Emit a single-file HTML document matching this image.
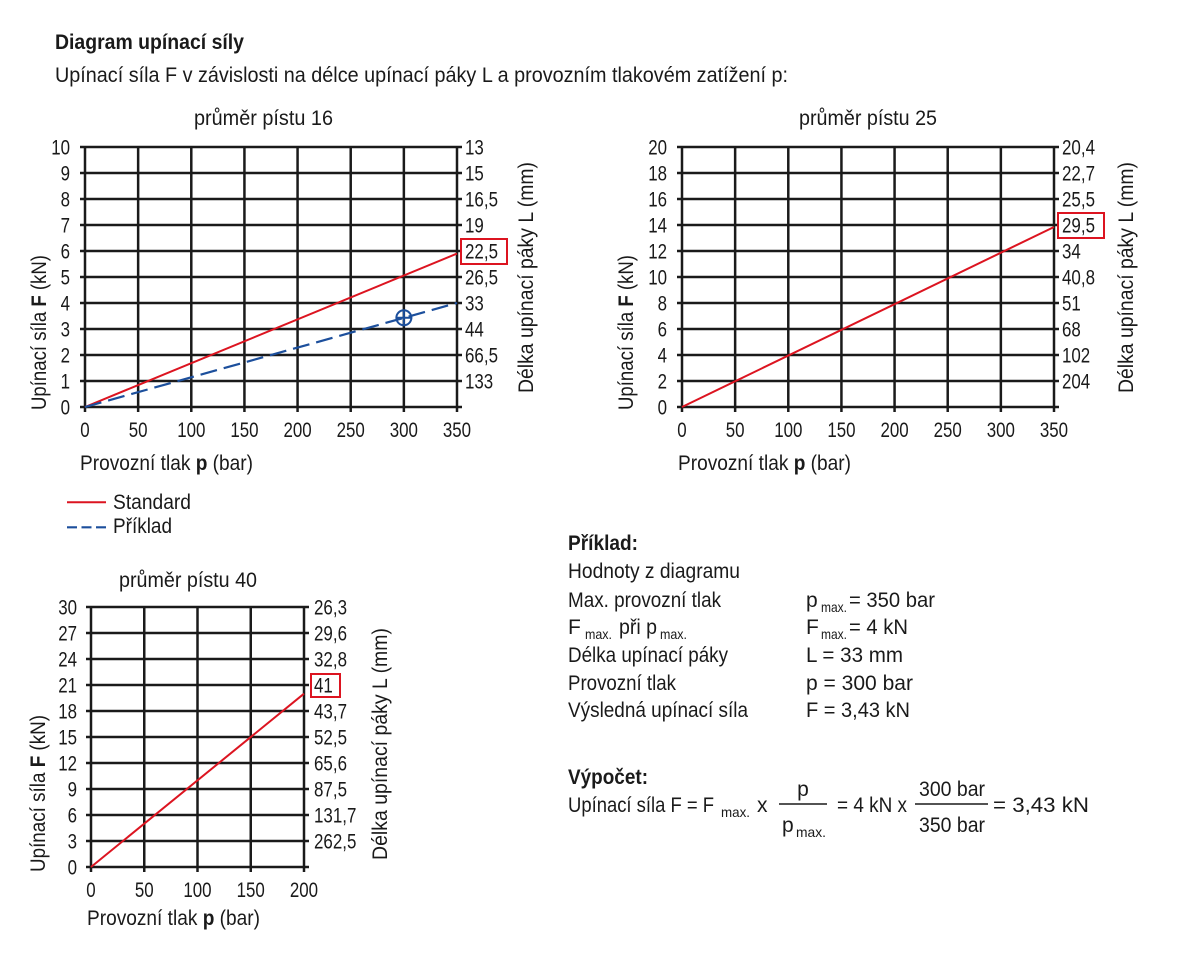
<!DOCTYPE html>
<html>
<head>
<meta charset="utf-8">
<style>
html,body{margin:0;padding:0;background:#fff;}
svg{display:block;}
text{font-family:"Liberation Sans Narrow","Liberation Sans",sans-serif;font-size:21px;fill:#1a1a1a;}
.b{font-weight:bold;}
.s{font-size:14px;}
.g line{stroke:#1a1a1a;stroke-width:2.5;}
</style>
</head>
<body>
<svg width="1200" height="960" viewBox="0 0 1200 960" xmlns="http://www.w3.org/2000/svg">
<rect width="1200" height="960" fill="#fff"/>

<!-- Header -->
<text x="55" y="49" class="b" textLength="189" lengthAdjust="spacingAndGlyphs">Diagram upínací síly</text>
<text x="55" y="82" textLength="733" lengthAdjust="spacingAndGlyphs">Upínací síla F v závislosti na délce upínací páky L a provozním tlakovém zatížení p:</text>

<!-- ================= Chart 1 ================= -->
<text x="194" y="125" textLength="139" lengthAdjust="spacingAndGlyphs">průměr pístu 16</text>
<g class="g">
<line x1="80" y1="147" x2="462" y2="147"/>
<line x1="80" y1="173" x2="462" y2="173"/>
<line x1="80" y1="199" x2="462" y2="199"/>
<line x1="80" y1="225" x2="462" y2="225"/>
<line x1="80" y1="251" x2="462" y2="251"/>
<line x1="80" y1="277" x2="462" y2="277"/>
<line x1="80" y1="303" x2="462" y2="303"/>
<line x1="80" y1="329" x2="462" y2="329"/>
<line x1="80" y1="355" x2="462" y2="355"/>
<line x1="80" y1="381" x2="462" y2="381"/>
<line x1="80" y1="407" x2="462" y2="407"/>
<line x1="85" y1="147" x2="85" y2="412"/>
<line x1="138.14" y1="147" x2="138.14" y2="412"/>
<line x1="191.29" y1="147" x2="191.29" y2="412"/>
<line x1="244.43" y1="147" x2="244.43" y2="412"/>
<line x1="297.57" y1="147" x2="297.57" y2="412"/>
<line x1="350.71" y1="147" x2="350.71" y2="412"/>
<line x1="403.86" y1="147" x2="403.86" y2="412"/>
<line x1="457" y1="147" x2="457" y2="412"/>
</g>
<g text-anchor="end">
<text x="70" y="414.5" textLength="9.4" lengthAdjust="spacingAndGlyphs">0</text>
<text x="70" y="388.5" textLength="9.4" lengthAdjust="spacingAndGlyphs">1</text>
<text x="70" y="362.5" textLength="9.4" lengthAdjust="spacingAndGlyphs">2</text>
<text x="70" y="336.5" textLength="9.4" lengthAdjust="spacingAndGlyphs">3</text>
<text x="70" y="310.5" textLength="9.4" lengthAdjust="spacingAndGlyphs">4</text>
<text x="70" y="284.5" textLength="9.4" lengthAdjust="spacingAndGlyphs">5</text>
<text x="70" y="258.5" textLength="9.4" lengthAdjust="spacingAndGlyphs">6</text>
<text x="70" y="232.5" textLength="9.4" lengthAdjust="spacingAndGlyphs">7</text>
<text x="70" y="206.5" textLength="9.4" lengthAdjust="spacingAndGlyphs">8</text>
<text x="70" y="180.5" textLength="9.4" lengthAdjust="spacingAndGlyphs">9</text>
<text x="70" y="154.5" textLength="18.8" lengthAdjust="spacingAndGlyphs">10</text>
</g>
<g>
<text x="465" y="154.5" textLength="18.8" lengthAdjust="spacingAndGlyphs">13</text>
<text x="465" y="180.5" textLength="18.8" lengthAdjust="spacingAndGlyphs">15</text>
<text x="465" y="206.5" textLength="33" lengthAdjust="spacingAndGlyphs">16,5</text>
<text x="465" y="232.5" textLength="18.8" lengthAdjust="spacingAndGlyphs">19</text>
<text x="465" y="258.5" textLength="33" lengthAdjust="spacingAndGlyphs">22,5</text>
<text x="465" y="284.5" textLength="33" lengthAdjust="spacingAndGlyphs">26,5</text>
<text x="465" y="310.5" textLength="18.8" lengthAdjust="spacingAndGlyphs">33</text>
<text x="465" y="336.5" textLength="18.8" lengthAdjust="spacingAndGlyphs">44</text>
<text x="465" y="362.5" textLength="33" lengthAdjust="spacingAndGlyphs">66,5</text>
<text x="465" y="388.5" textLength="28.2" lengthAdjust="spacingAndGlyphs">133</text>
</g>
<rect x="461" y="239" width="46" height="25" fill="none" stroke="#dc1420" stroke-width="2"/>
<g text-anchor="middle">
<text x="85" y="437" textLength="9.4" lengthAdjust="spacingAndGlyphs">0</text>
<text x="138.14" y="437" textLength="18.8" lengthAdjust="spacingAndGlyphs">50</text>
<text x="191.29" y="437" textLength="28.2" lengthAdjust="spacingAndGlyphs">100</text>
<text x="244.43" y="437" textLength="28.2" lengthAdjust="spacingAndGlyphs">150</text>
<text x="297.57" y="437" textLength="28.2" lengthAdjust="spacingAndGlyphs">200</text>
<text x="350.71" y="437" textLength="28.2" lengthAdjust="spacingAndGlyphs">250</text>
<text x="403.86" y="437" textLength="28.2" lengthAdjust="spacingAndGlyphs">300</text>
<text x="457" y="437" textLength="28.2" lengthAdjust="spacingAndGlyphs">350</text>
</g>
<line x1="85" y1="407" x2="457" y2="253.6" stroke="#dc1420" stroke-width="2"/>
<line x1="85" y1="407" x2="457" y2="303" stroke="#1c4f9c" stroke-width="2.2" stroke-dasharray="17 7"/>
<circle cx="403.86" cy="317.8" r="7.5" fill="none" stroke="#1c4f9c" stroke-width="2"/>
<line x1="395.5" y1="317.8" x2="412.2" y2="317.8" stroke="#1c4f9c" stroke-width="2"/>
<line x1="403.86" y1="309.5" x2="403.86" y2="326.2" stroke="#1c4f9c" stroke-width="2"/>
<text transform="translate(46,332.5) rotate(-90)" text-anchor="middle" textLength="155" lengthAdjust="spacingAndGlyphs">Upínací síla <tspan class="b">F</tspan> (kN)</text>
<text transform="translate(533,277.5) rotate(-90)" text-anchor="middle" textLength="231" lengthAdjust="spacingAndGlyphs">Délka upínací páky L (mm)</text>
<text x="80" y="470" textLength="173" lengthAdjust="spacingAndGlyphs">Provozní tlak <tspan class="b">p</tspan> (bar)</text>

<!-- Legend -->
<line x1="67" y1="502.3" x2="106" y2="502.3" stroke="#dc1420" stroke-width="2"/>
<text x="113" y="509" textLength="78" lengthAdjust="spacingAndGlyphs">Standard</text>
<line x1="67" y1="527.3" x2="106" y2="527.3" stroke="#1c4f9c" stroke-width="2.2" stroke-dasharray="10 4.5"/>
<text x="113" y="533" textLength="59" lengthAdjust="spacingAndGlyphs">Příklad</text>

<!-- ================= Chart 2 ================= -->
<text x="799" y="125" textLength="138" lengthAdjust="spacingAndGlyphs">průměr pístu 25</text>
<g class="g">
<line x1="677" y1="147" x2="1059" y2="147"/>
<line x1="677" y1="173" x2="1059" y2="173"/>
<line x1="677" y1="199" x2="1059" y2="199"/>
<line x1="677" y1="225" x2="1059" y2="225"/>
<line x1="677" y1="251" x2="1059" y2="251"/>
<line x1="677" y1="277" x2="1059" y2="277"/>
<line x1="677" y1="303" x2="1059" y2="303"/>
<line x1="677" y1="329" x2="1059" y2="329"/>
<line x1="677" y1="355" x2="1059" y2="355"/>
<line x1="677" y1="381" x2="1059" y2="381"/>
<line x1="677" y1="407" x2="1059" y2="407"/>
<line x1="682" y1="147" x2="682" y2="412"/>
<line x1="735.14" y1="147" x2="735.14" y2="412"/>
<line x1="788.29" y1="147" x2="788.29" y2="412"/>
<line x1="841.43" y1="147" x2="841.43" y2="412"/>
<line x1="894.57" y1="147" x2="894.57" y2="412"/>
<line x1="947.71" y1="147" x2="947.71" y2="412"/>
<line x1="1000.86" y1="147" x2="1000.86" y2="412"/>
<line x1="1054" y1="147" x2="1054" y2="412"/>
</g>
<g text-anchor="end">
<text x="667" y="414.5" textLength="9.4" lengthAdjust="spacingAndGlyphs">0</text>
<text x="667" y="388.5" textLength="9.4" lengthAdjust="spacingAndGlyphs">2</text>
<text x="667" y="362.5" textLength="9.4" lengthAdjust="spacingAndGlyphs">4</text>
<text x="667" y="336.5" textLength="9.4" lengthAdjust="spacingAndGlyphs">6</text>
<text x="667" y="310.5" textLength="9.4" lengthAdjust="spacingAndGlyphs">8</text>
<text x="667" y="284.5" textLength="18.8" lengthAdjust="spacingAndGlyphs">10</text>
<text x="667" y="258.5" textLength="18.8" lengthAdjust="spacingAndGlyphs">12</text>
<text x="667" y="232.5" textLength="18.8" lengthAdjust="spacingAndGlyphs">14</text>
<text x="667" y="206.5" textLength="18.8" lengthAdjust="spacingAndGlyphs">16</text>
<text x="667" y="180.5" textLength="18.8" lengthAdjust="spacingAndGlyphs">18</text>
<text x="667" y="154.5" textLength="18.8" lengthAdjust="spacingAndGlyphs">20</text>
</g>
<g>
<text x="1062" y="154.5" textLength="33" lengthAdjust="spacingAndGlyphs">20,4</text>
<text x="1062" y="180.5" textLength="33" lengthAdjust="spacingAndGlyphs">22,7</text>
<text x="1062" y="206.5" textLength="33" lengthAdjust="spacingAndGlyphs">25,5</text>
<text x="1062" y="232.5" textLength="33" lengthAdjust="spacingAndGlyphs">29,5</text>
<text x="1062" y="258.5" textLength="18.8" lengthAdjust="spacingAndGlyphs">34</text>
<text x="1062" y="284.5" textLength="33" lengthAdjust="spacingAndGlyphs">40,8</text>
<text x="1062" y="310.5" textLength="18.8" lengthAdjust="spacingAndGlyphs">51</text>
<text x="1062" y="336.5" textLength="18.8" lengthAdjust="spacingAndGlyphs">68</text>
<text x="1062" y="362.5" textLength="28.2" lengthAdjust="spacingAndGlyphs">102</text>
<text x="1062" y="388.5" textLength="28.2" lengthAdjust="spacingAndGlyphs">204</text>
</g>
<rect x="1058" y="213" width="46" height="25" fill="none" stroke="#dc1420" stroke-width="2"/>
<g text-anchor="middle">
<text x="682" y="437" textLength="9.4" lengthAdjust="spacingAndGlyphs">0</text>
<text x="735.14" y="437" textLength="18.8" lengthAdjust="spacingAndGlyphs">50</text>
<text x="788.29" y="437" textLength="28.2" lengthAdjust="spacingAndGlyphs">100</text>
<text x="841.43" y="437" textLength="28.2" lengthAdjust="spacingAndGlyphs">150</text>
<text x="894.57" y="437" textLength="28.2" lengthAdjust="spacingAndGlyphs">200</text>
<text x="947.71" y="437" textLength="28.2" lengthAdjust="spacingAndGlyphs">250</text>
<text x="1000.86" y="437" textLength="28.2" lengthAdjust="spacingAndGlyphs">300</text>
<text x="1054" y="437" textLength="28.2" lengthAdjust="spacingAndGlyphs">350</text>
</g>
<line x1="682" y1="407" x2="1054" y2="227" stroke="#dc1420" stroke-width="2"/>
<text transform="translate(633,332.5) rotate(-90)" text-anchor="middle" textLength="155" lengthAdjust="spacingAndGlyphs">Upínací síla <tspan class="b">F</tspan> (kN)</text>
<text transform="translate(1133,277.5) rotate(-90)" text-anchor="middle" textLength="231" lengthAdjust="spacingAndGlyphs">Délka upínací páky L (mm)</text>
<text x="678" y="470" textLength="173" lengthAdjust="spacingAndGlyphs">Provozní tlak <tspan class="b">p</tspan> (bar)</text>

<!-- ================= Chart 3 ================= -->
<text x="119" y="587" textLength="138" lengthAdjust="spacingAndGlyphs">průměr pístu 40</text>
<g class="g">
<line x1="86" y1="607" x2="309" y2="607"/>
<line x1="86" y1="633" x2="309" y2="633"/>
<line x1="86" y1="659" x2="309" y2="659"/>
<line x1="86" y1="685" x2="309" y2="685"/>
<line x1="86" y1="711" x2="309" y2="711"/>
<line x1="86" y1="737" x2="309" y2="737"/>
<line x1="86" y1="763" x2="309" y2="763"/>
<line x1="86" y1="789" x2="309" y2="789"/>
<line x1="86" y1="815" x2="309" y2="815"/>
<line x1="86" y1="841" x2="309" y2="841"/>
<line x1="86" y1="867" x2="309" y2="867"/>
<line x1="91" y1="607" x2="91" y2="872"/>
<line x1="144.25" y1="607" x2="144.25" y2="872"/>
<line x1="197.5" y1="607" x2="197.5" y2="872"/>
<line x1="250.75" y1="607" x2="250.75" y2="872"/>
<line x1="304" y1="607" x2="304" y2="872"/>
</g>
<g text-anchor="end">
<text x="77" y="874.5" textLength="9.4" lengthAdjust="spacingAndGlyphs">0</text>
<text x="77" y="848.5" textLength="9.4" lengthAdjust="spacingAndGlyphs">3</text>
<text x="77" y="822.5" textLength="9.4" lengthAdjust="spacingAndGlyphs">6</text>
<text x="77" y="796.5" textLength="9.4" lengthAdjust="spacingAndGlyphs">9</text>
<text x="77" y="770.5" textLength="18.8" lengthAdjust="spacingAndGlyphs">12</text>
<text x="77" y="744.5" textLength="18.8" lengthAdjust="spacingAndGlyphs">15</text>
<text x="77" y="718.5" textLength="18.8" lengthAdjust="spacingAndGlyphs">18</text>
<text x="77" y="692.5" textLength="18.8" lengthAdjust="spacingAndGlyphs">21</text>
<text x="77" y="666.5" textLength="18.8" lengthAdjust="spacingAndGlyphs">24</text>
<text x="77" y="640.5" textLength="18.8" lengthAdjust="spacingAndGlyphs">27</text>
<text x="77" y="614.5" textLength="18.8" lengthAdjust="spacingAndGlyphs">30</text>
</g>
<g>
<text x="314" y="614.5" textLength="33" lengthAdjust="spacingAndGlyphs">26,3</text>
<text x="314" y="640.5" textLength="33" lengthAdjust="spacingAndGlyphs">29,6</text>
<text x="314" y="666.5" textLength="33" lengthAdjust="spacingAndGlyphs">32,8</text>
<text x="314" y="692.5" textLength="18.8" lengthAdjust="spacingAndGlyphs">41</text>
<text x="314" y="718.5" textLength="33" lengthAdjust="spacingAndGlyphs">43,7</text>
<text x="314" y="744.5" textLength="33" lengthAdjust="spacingAndGlyphs">52,5</text>
<text x="314" y="770.5" textLength="33" lengthAdjust="spacingAndGlyphs">65,6</text>
<text x="314" y="796.5" textLength="33" lengthAdjust="spacingAndGlyphs">87,5</text>
<text x="314" y="822.5" textLength="42.4" lengthAdjust="spacingAndGlyphs">131,7</text>
<text x="314" y="848.5" textLength="42.4" lengthAdjust="spacingAndGlyphs">262,5</text>
</g>
<rect x="311" y="674" width="29" height="23" fill="none" stroke="#dc1420" stroke-width="2"/>
<g text-anchor="middle">
<text x="91" y="897" textLength="9.4" lengthAdjust="spacingAndGlyphs">0</text>
<text x="144.25" y="897" textLength="18.8" lengthAdjust="spacingAndGlyphs">50</text>
<text x="197.5" y="897" textLength="28.2" lengthAdjust="spacingAndGlyphs">100</text>
<text x="250.75" y="897" textLength="28.2" lengthAdjust="spacingAndGlyphs">150</text>
<text x="304" y="897" textLength="28.2" lengthAdjust="spacingAndGlyphs">200</text>
</g>
<line x1="91" y1="867" x2="304" y2="693.7" stroke="#dc1420" stroke-width="2"/>
<text transform="translate(45,793.5) rotate(-90)" text-anchor="middle" textLength="157" lengthAdjust="spacingAndGlyphs">Upínací síla <tspan class="b">F</tspan> (kN)</text>
<text transform="translate(387,744) rotate(-90)" text-anchor="middle" textLength="232" lengthAdjust="spacingAndGlyphs">Délka upínací páky L (mm)</text>
<text x="87" y="925" textLength="173" lengthAdjust="spacingAndGlyphs">Provozní tlak <tspan class="b">p</tspan> (bar)</text>

<!-- ================= Example ================= -->
<text x="568" y="550" class="b" textLength="70" lengthAdjust="spacingAndGlyphs">Příklad:</text>
<text x="568" y="578" textLength="172" lengthAdjust="spacingAndGlyphs">Hodnoty z diagramu</text>
<text x="568" y="607" textLength="153" lengthAdjust="spacingAndGlyphs">Max. provozní tlak</text>
<text x="568" y="634">F</text>
<text x="585" y="639" class="s" textLength="27" lengthAdjust="spacingAndGlyphs">max.</text>
<text x="619" y="634" textLength="38" lengthAdjust="spacingAndGlyphs">při p</text>
<text x="660" y="639" class="s" textLength="27" lengthAdjust="spacingAndGlyphs">max.</text>
<text x="568" y="662" textLength="160" lengthAdjust="spacingAndGlyphs">Délka upínací páky</text>
<text x="568" y="690" textLength="108" lengthAdjust="spacingAndGlyphs">Provozní tlak</text>
<text x="568" y="717" textLength="180" lengthAdjust="spacingAndGlyphs">Výsledná upínací síla</text>

<text x="806" y="607">p</text>
<text x="821" y="612" class="s" textLength="26" lengthAdjust="spacingAndGlyphs">max.</text>
<text x="849" y="607" textLength="86" lengthAdjust="spacingAndGlyphs">= 350 bar</text>
<text x="806" y="634">F</text>
<text x="821" y="639" class="s" textLength="26" lengthAdjust="spacingAndGlyphs">max.</text>
<text x="849" y="634" textLength="59" lengthAdjust="spacingAndGlyphs">= 4 kN</text>
<text x="806" y="662" textLength="97" lengthAdjust="spacingAndGlyphs">L = 33 mm</text>
<text x="806" y="690" textLength="107" lengthAdjust="spacingAndGlyphs">p = 300 bar</text>
<text x="806" y="717" textLength="104" lengthAdjust="spacingAndGlyphs">F = 3,43 kN</text>

<!-- Výpočet -->
<text x="568" y="784" class="b" textLength="80" lengthAdjust="spacingAndGlyphs">Výpočet:</text>
<text x="568" y="812" textLength="146" lengthAdjust="spacingAndGlyphs">Upínací síla F = F</text>
<text x="721" y="817" class="s" textLength="29" lengthAdjust="spacingAndGlyphs">max.</text>
<text x="757" y="812">x</text>
<text x="803" y="796" text-anchor="middle">p</text>
<line x1="779" y1="804" x2="827" y2="804" stroke="#1a1a1a" stroke-width="1.6"/>
<text x="782" y="832">p</text>
<text x="796" y="837" class="s" textLength="30" lengthAdjust="spacingAndGlyphs">max.</text>
<text x="837" y="812" textLength="70" lengthAdjust="spacingAndGlyphs">= 4 kN x</text>
<text x="919" y="796" textLength="66" lengthAdjust="spacingAndGlyphs">300 bar</text>
<line x1="915" y1="804" x2="988" y2="804" stroke="#1a1a1a" stroke-width="1.6"/>
<text x="919" y="832" textLength="66" lengthAdjust="spacingAndGlyphs">350 bar</text>
<text x="993" y="812" textLength="96" lengthAdjust="spacingAndGlyphs">= 3,43 kN</text>
</svg>
</body>
</html>
